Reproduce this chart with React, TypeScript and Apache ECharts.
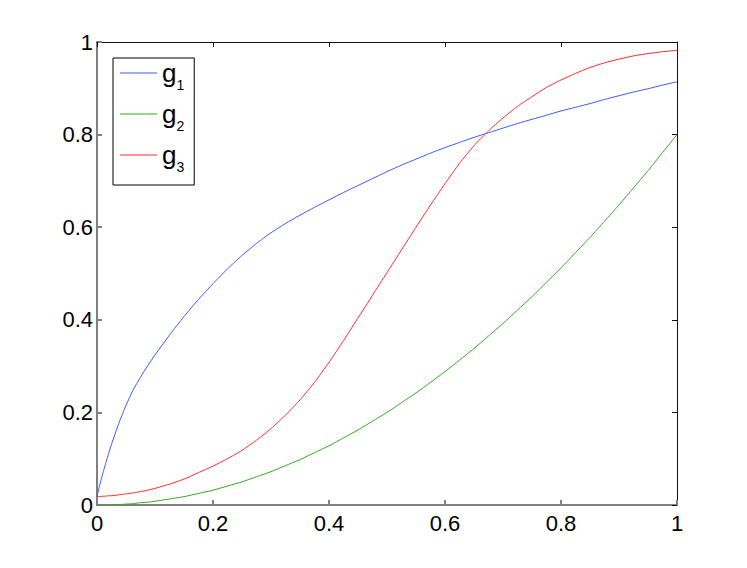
import React, { useEffect, useRef } from "react";
import * as echarts from "echarts";

const xs = [0, 0.005, 0.01, 0.015, 0.02, 0.025, 0.0375, 0.05, 0.0625, 0.075, 0.0875, 0.1, 0.125, 0.15, 0.175, 0.2, 0.225, 0.25, 0.275, 0.3, 0.325, 0.35, 0.375, 0.4, 0.425, 0.45, 0.475, 0.5, 0.525, 0.55, 0.575, 0.6, 0.625, 0.65, 0.675, 0.7, 0.725, 0.75, 0.775, 0.8, 0.825, 0.85, 0.875, 0.9, 0.925, 0.95, 0.975, 1.0];
const g1 = [0.018, 0.045, 0.068, 0.09, 0.111, 0.131, 0.176, 0.215, 0.249, 0.276, 0.301, 0.324, 0.367, 0.407, 0.444, 0.478, 0.51, 0.539, 0.565, 0.588, 0.608, 0.626, 0.643, 0.659, 0.675, 0.69, 0.705, 0.72, 0.734, 0.747, 0.76, 0.772, 0.783, 0.794, 0.804, 0.814, 0.824, 0.833, 0.842, 0.851, 0.859, 0.867, 0.876, 0.884, 0.892, 0.899, 0.907, 0.914];
const g2 = [0, 0, 0, 0, 0, 0.001, 0.001, 0.002, 0.003, 0.005, 0.006, 0.008, 0.013, 0.018, 0.025, 0.032, 0.041, 0.05, 0.061, 0.072, 0.085, 0.098, 0.113, 0.128, 0.145, 0.162, 0.181, 0.2, 0.221, 0.242, 0.265, 0.288, 0.313, 0.338, 0.365, 0.392, 0.421, 0.45, 0.481, 0.512, 0.545, 0.578, 0.613, 0.648, 0.685, 0.722, 0.761, 0.8];
const g3 = [0.018, 0.018, 0.019, 0.019, 0.02, 0.02, 0.022, 0.024, 0.026, 0.029, 0.032, 0.036, 0.045, 0.056, 0.07, 0.084, 0.1, 0.118, 0.14, 0.165, 0.194, 0.227, 0.265, 0.308, 0.355, 0.404, 0.453, 0.502, 0.551, 0.6, 0.648, 0.694, 0.738, 0.776, 0.808, 0.836, 0.861, 0.882, 0.902, 0.918, 0.932, 0.945, 0.955, 0.963, 0.97, 0.975, 0.979, 0.982];
const seriesNames = ["g1", "g2", "g3"];
const seriesColors = ["#3a5cff", "#33aa22", "#ff2a2a"];
const tickLabels = ["0", "0.2", "0.4", "0.6", "0.8", "1"];

const FONT = "'Liberation Sans', Arial, Helvetica, sans-serif";

export default function App() {
  const ref = useRef<HTMLDivElement>(null);
  useEffect(() => {
    if (!ref.current) return;
    const chart = echarts.init(ref.current, undefined, { renderer: "svg" });
    const values = [g1, g2, g3];
    const fmt = (v: number) => {
      const i = Math.round(v / 0.2);
      return tickLabels[i] ?? String(v);
    };
    const grey = "#808080";
    const dark = "#111";
    chart.setOption({
      animation: false,
      backgroundColor: "#fff",
      grid: { left: 97, right: 70, top: 42, bottom: 63, containLabel: false },
      legend: {
        orient: "vertical",
        left: 113,
        top: 58,
        padding: [2, 10, 3, 7],
        borderColor: "#000",
        borderWidth: 1,
        backgroundColor: "#fff",
        icon: "rect",
        itemWidth: 37,
        itemHeight: 1,
        itemGap: 1,
        data: seriesNames,
        formatter: (name: string) => `{g|g}{s|${name.slice(1)}}`,
        textStyle: {
          fontFamily: FONT,
          color: "#000",
          rich: {
            g: { fontSize: 26, lineHeight: 26, verticalAlign: "top", fontFamily: FONT, color: "#000" },
            s: { fontSize: 14, lineHeight: 14, padding: [18, 0, 8, 0], verticalAlign: "top", fontFamily: FONT, color: "#000" },
          },
        },
      },
      xAxis: [
        {
          type: "value",
          min: 0,
          max: 1,
          interval: 0.2,
          position: "bottom",
          axisLine: { show: true, lineStyle: { color: grey, width: 2 } },
          axisTick: { show: true, inside: true, length: 5, lineStyle: { color: grey, width: 2 } },
          axisLabel: { show: true, margin: 7, fontSize: 22, fontFamily: FONT, color: "#000", formatter: fmt },
          splitLine: { show: false },
        },
        {
          type: "value",
          min: 0,
          max: 1,
          interval: 0.2,
          position: "top",
          axisLine: { show: true, onZero: false, lineStyle: { color: dark, width: 1 } },
          axisTick: { show: true, inside: true, length: 5, lineStyle: { color: dark, width: 1 } },
          axisLabel: { show: false },
          splitLine: { show: false },
        },
      ],
      yAxis: [
        {
          type: "value",
          min: 0,
          max: 1,
          interval: 0.2,
          position: "left",
          axisLine: { show: true, lineStyle: { color: grey, width: 2 } },
          axisTick: { show: true, inside: true, length: 5, lineStyle: { color: grey, width: 2 } },
          axisLabel: { show: true, margin: 4, fontSize: 22, fontFamily: FONT, color: "#000", formatter: fmt },
          splitLine: { show: false },
        },
        {
          type: "value",
          min: 0,
          max: 1,
          interval: 0.2,
          position: "right",
          axisLine: { show: true, onZero: false, lineStyle: { color: dark, width: 1 } },
          axisTick: { show: true, inside: true, length: 5, lineStyle: { color: dark, width: 1 } },
          axisLabel: { show: false },
          splitLine: { show: false },
        },
      ],
      series: seriesNames.map((n, k) => ({
        name: n,
        type: "line",
        xAxisIndex: 0,
        yAxisIndex: 0,
        showSymbol: false,
        symbol: "none",
        smooth: 0.2,
        lineStyle: { color: seriesColors[k], width: 1 },
        itemStyle: { color: seriesColors[k] },
        data: xs.map((x, i) => [x, values[k][i]]),
      })),
    });
    return () => chart.dispose();
  }, []);
  return <div ref={ref} style={{ width: 747, height: 568, position: "absolute", left: 0, top: 0 }} />;
}
